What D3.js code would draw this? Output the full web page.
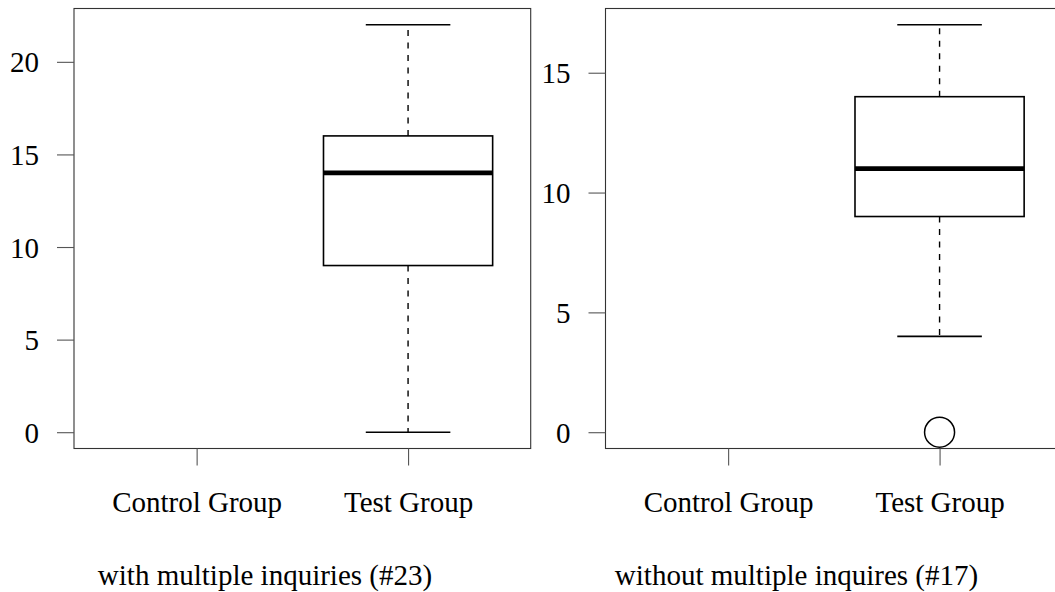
<!DOCTYPE html>
<html>
<head>
<meta charset="utf-8">
<script src="https://cdn.jsdelivr.net/npm/d3@7"></script>
<style>
  body { margin: 0; background: #fff; }
  text { font-family: "Liberation Serif", "Times New Roman", serif; fill: #000; }
</style>
</head>
<body>
<svg id="chart"></svg>
<script>
var groups = ["Control Group", "Test Group"]

// five-number summaries per group (null = no data)
var withMultiple = [null, {min: 0, q1: 9, median: 14, q3: 16, max: 22, outliers: []}]
var withoutMultiple = [null, {min: 4, q1: 9, median: 11, q3: 14, max: 17, outliers: [0]}]

var yTicksLeft = [0, 5, 10, 15, 20]
var yTicksRight = [0, 5, 10, 15]

var captionLeft = "with multiple inquiries (#23)"
var captionRight = "without multiple inquires (#17)"

var width = 1055, height = 592
var svg = d3.select("#chart").attr("width", width).attr("height", height)

var panelW = 456.7, plotTop = 8.5, plotBottom = 448.5

function drawPanel(x0, stats, yTicks, caption) {
  var g = svg.append("g")

  // R style: domain padded by 4% on each side
  var xScale = d3.scaleLinear()
    .domain([0.5 - 0.08, groups.length + 0.5 + 0.08])
    .range([x0, x0 + panelW])

  var vals = []
  stats.forEach(function(s) {
    if (s) vals = vals.concat([s.min, s.max], s.outliers)
  })
  var ext = d3.extent(vals), pad = (ext[1] - ext[0]) * 0.04
  var yScale = d3.scaleLinear()
    .domain([ext[0] - pad, ext[1] + pad])
    .range([plotBottom, plotTop])

  // frame
  g.append("rect")
    .attr("x", x0).attr("y", plotTop)
    .attr("width", panelW).attr("height", plotBottom - plotTop)
    .attr("fill", "none").attr("stroke", "#333").attr("stroke-width", 1.1)

  // y axis
  var yAxis = g.append("g")
    .attr("transform", "translate(" + x0 + ",0)")
    .call(d3.axisLeft(yScale).tickValues(yTicks).tickSize(17).tickPadding(18))
  yAxis.select(".domain").remove()
  yAxis.selectAll("line").attr("stroke", "#555").attr("stroke-width", 1.1)
  yAxis.selectAll("text").attr("font-size", 29).attr("font-family", "Liberation Serif")
    .attr("fill", "#000").attr("dy", "0.35em")

  // x axis
  var xAxis = g.append("g")
    .attr("transform", "translate(0," + plotBottom + ")")
    .call(d3.axisBottom(xScale).tickValues(groups.map(function(d, i) { return i + 1 }))
      .tickFormat(function(d) { return groups[d - 1] }).tickSize(17).tickPadding(0))
  xAxis.select(".domain").remove()
  xAxis.selectAll("line").attr("stroke", "#555").attr("stroke-width", 1.1)
  xAxis.selectAll("text").attr("font-size", 29).attr("font-family", "Liberation Serif")
    .attr("fill", "#000").attr("y", 63).attr("dy", 0)

  // boxes
  var boxW = 0.8 * (xScale(2) - xScale(1))
  stats.forEach(function(s, i) {
    if (!s) return
    var cx = xScale(i + 1)
    var b = g.append("g")
    // whiskers
    b.append("line").attr("x1", cx).attr("x2", cx)
      .attr("y1", yScale(s.q3)).attr("y2", yScale(s.max))
      .attr("stroke", "#000").attr("stroke-width", 1.4).attr("stroke-dasharray", "6,6.5")
    b.append("line").attr("x1", cx).attr("x2", cx)
      .attr("y1", yScale(s.q1)).attr("y2", yScale(s.min))
      .attr("stroke", "#000").attr("stroke-width", 1.4).attr("stroke-dasharray", "6,6.5")
    // staples
    ;[s.min, s.max].forEach(function(v) {
      b.append("line").attr("x1", cx - boxW / 4).attr("x2", cx + boxW / 4)
        .attr("y1", yScale(v)).attr("y2", yScale(v))
        .attr("stroke", "#000").attr("stroke-width", 1.6)
    })
    // box
    b.append("rect")
      .attr("x", cx - boxW / 2).attr("y", yScale(s.q3))
      .attr("width", boxW).attr("height", yScale(s.q1) - yScale(s.q3))
      .attr("fill", "#fff").attr("stroke", "#000").attr("stroke-width", 1.6)
    // median
    b.append("line").attr("x1", cx - boxW / 2).attr("x2", cx + boxW / 2)
      .attr("y1", yScale(s.median)).attr("y2", yScale(s.median))
      .attr("stroke", "#000").attr("stroke-width", 4.8)
    // outliers
    s.outliers.forEach(function(v) {
      b.append("circle").attr("cx", cx).attr("cy", yScale(v)).attr("r", 15)
        .attr("fill", "none").attr("stroke", "#000").attr("stroke-width", 1.5)
    })
  })

  // caption
  svg.append("text")
    .attr("x", x0 + 191).attr("y", 585)
    .attr("text-anchor", "middle").attr("font-size", 29)
    .text(caption)
}

drawPanel(74, withMultiple, yTicksLeft, captionLeft)
drawPanel(605.5, withoutMultiple, yTicksRight, captionRight)
</script>
</body>
</html>
